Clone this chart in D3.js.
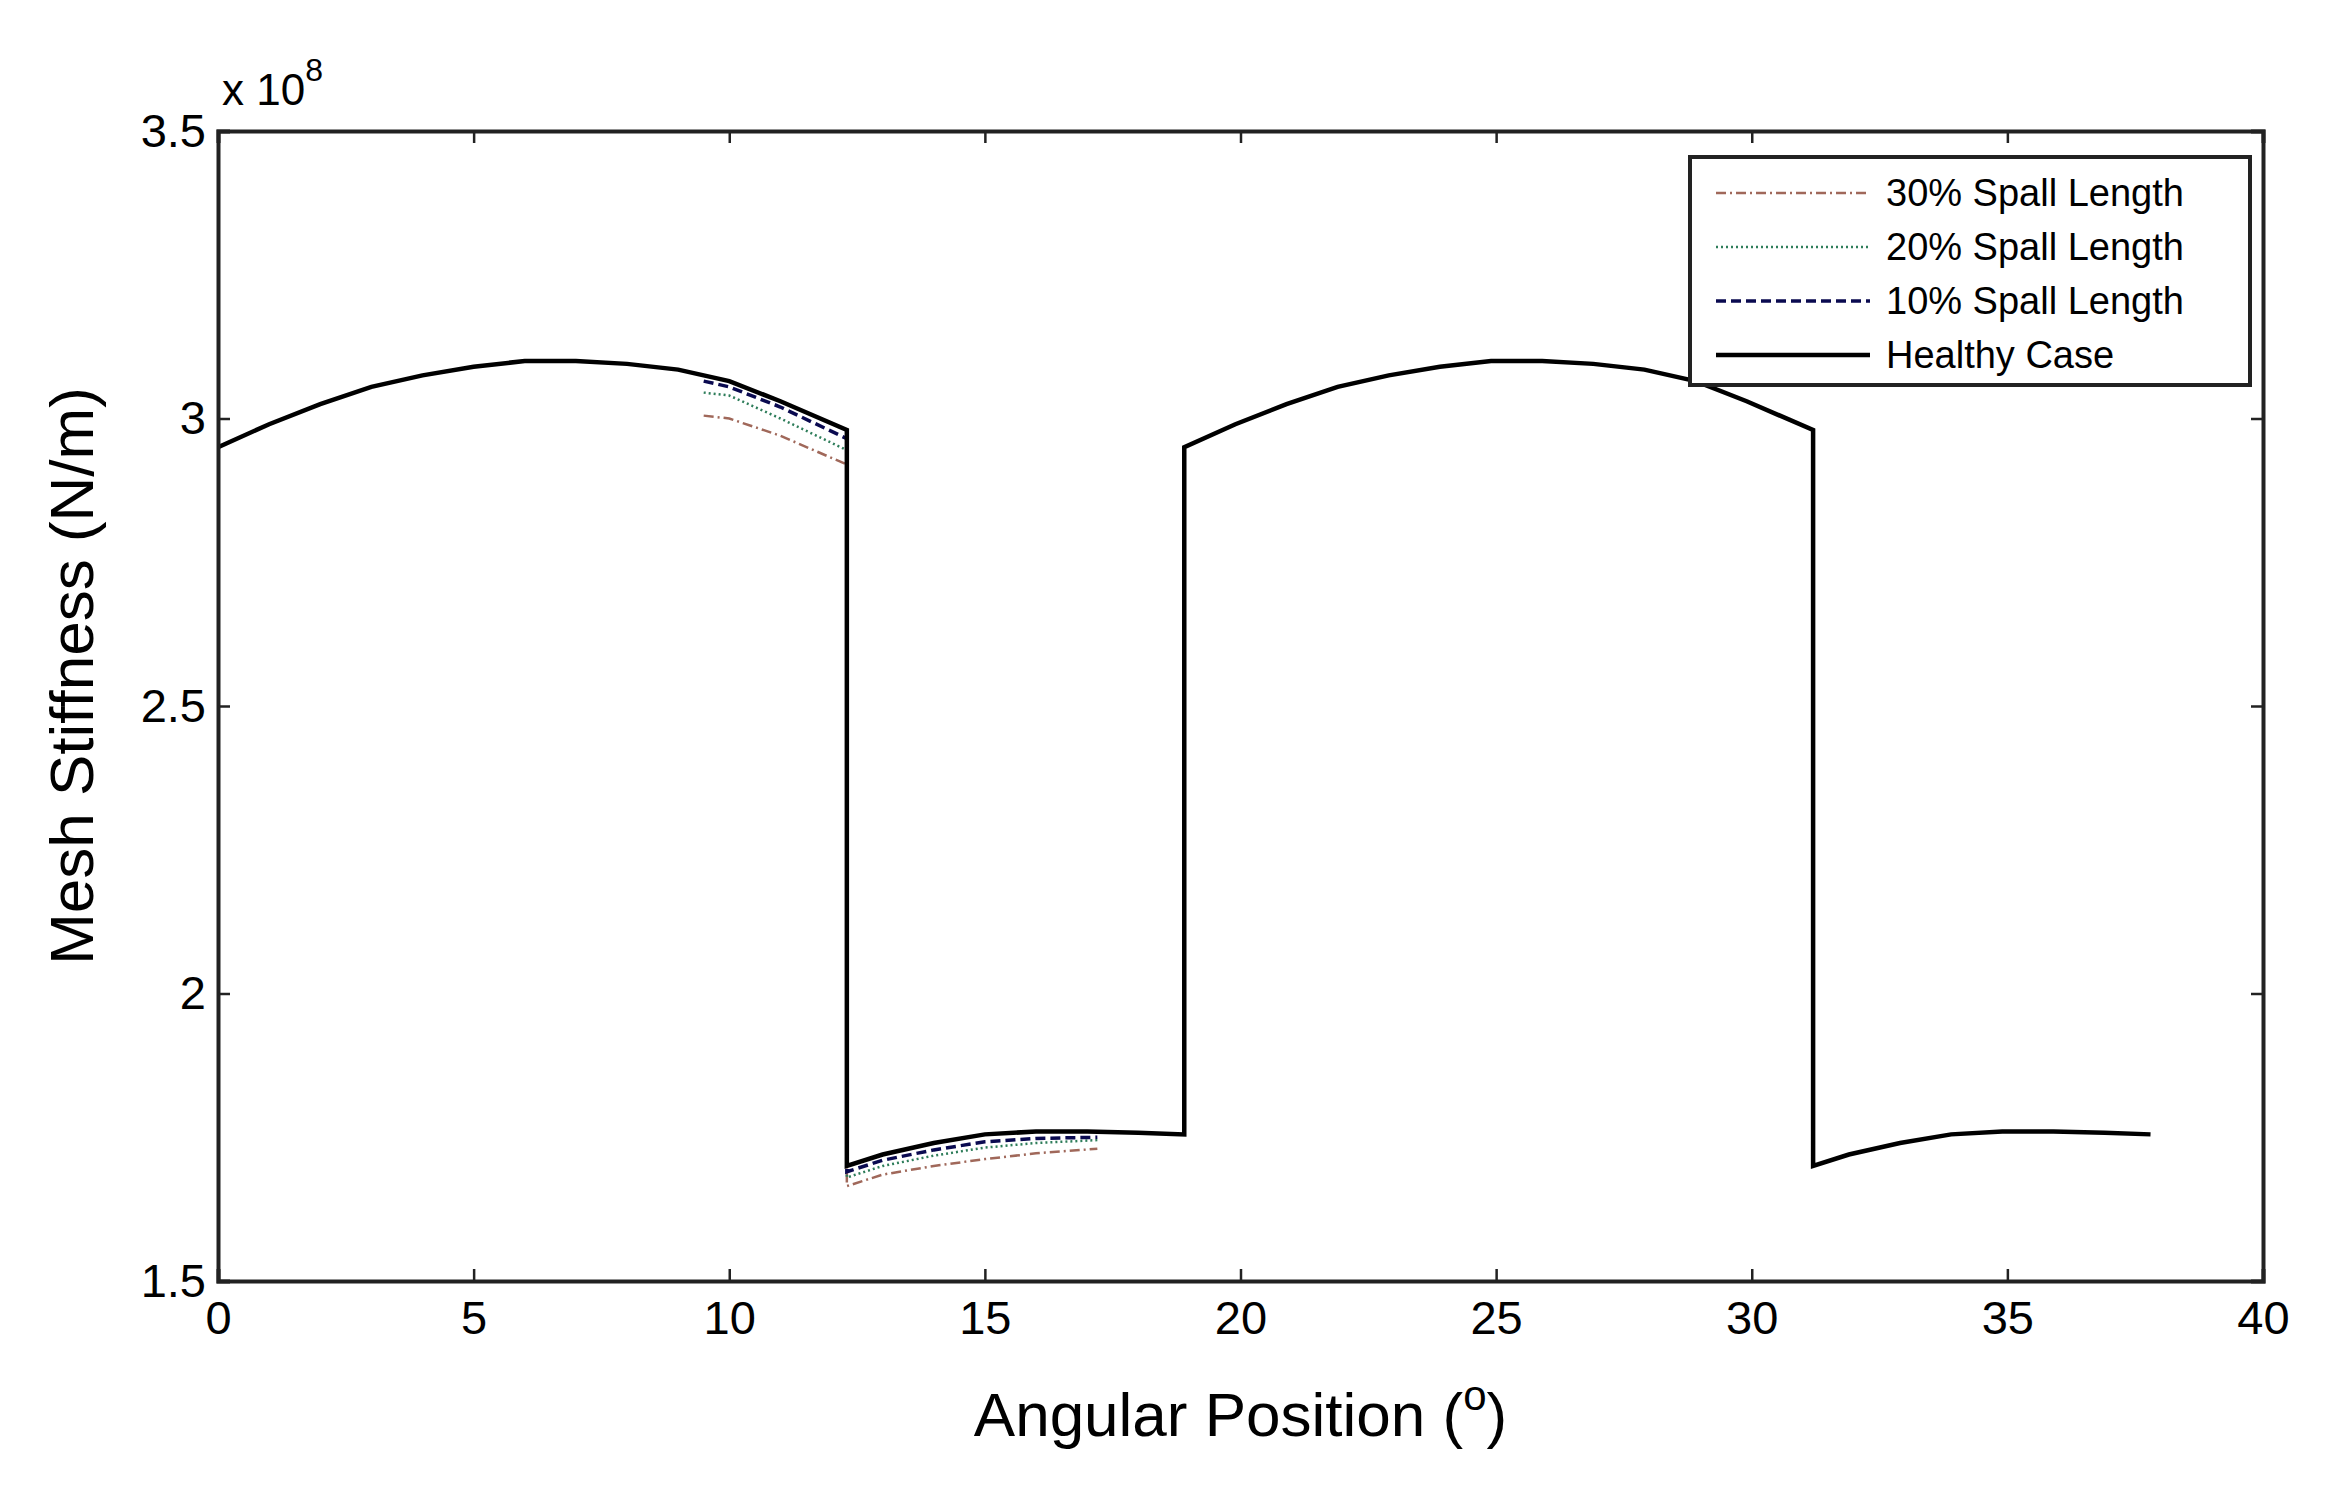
<!DOCTYPE html>
<html>
<head>
<meta charset="utf-8">
<script src="https://cdn.jsdelivr.net/npm/d3@7"></script>
<style>
  body { margin: 0; background: #fff; }
  text { font-family: "Liberation Sans", Arial, sans-serif; }
</style>
</head>
<body>
<div id="chart-area"></div>
<script>
// healthy mesh stiffness (x 1e8 N/m) vs angular position (deg)
var healthyX = [0, 1, 2, 3, 4, 5, 6, 7, 8, 9, 10, 11, 12.3,
                12.3, 13, 14, 15, 16, 17, 18, 18.9,
                18.9, 19.9, 20.9, 21.9, 22.9, 23.9, 24.9, 25.9, 26.9, 27.9, 28.9, 29.9, 31.2,
                31.2, 31.9, 32.9, 33.9, 34.9, 35.9, 36.9, 37.8];
var healthyY = [2.95, 2.99, 3.025, 3.055, 3.075, 3.09, 3.10, 3.10, 3.095, 3.085, 3.065, 3.03, 2.98,
                1.70, 1.72, 1.74, 1.755, 1.76, 1.76, 1.758, 1.755,
                2.95, 2.99, 3.025, 3.055, 3.075, 3.09, 3.10, 3.10, 3.095, 3.085, 3.065, 3.03, 2.98,
                1.70, 1.72, 1.74, 1.755, 1.76, 1.76, 1.758, 1.755];
var faultX = [9.5, 10, 11, 12.3, 12.3, 13, 14, 15, 16, 17.2];
var fault10Y = [3.065, 3.055, 3.02, 2.965, 1.69, 1.71, 1.728, 1.742, 1.748, 1.75];
var fault20Y = [3.045, 3.04, 3.0, 2.945, 1.68, 1.70, 1.718, 1.732, 1.740, 1.745];
var fault30Y = [3.005, 3.0, 2.97, 2.92, 1.665, 1.685, 1.70, 1.712, 1.722, 1.73];
var xTicks = [0, 5, 10, 15, 20, 25, 30, 35, 40];
var yTicks = [1.5, 2, 2.5, 3, 3.5];

var W = 2326, H = 1494;
var margin = {left: 218, right: 63, top: 131, bottom: 213};
var width = W - margin.left - margin.right;
var height = H - margin.top - margin.bottom;

var svg = d3.select("#chart-area").append("svg")
    .attr("width", W).attr("height", H);
var g = svg.append("g")
    .attr("transform", "translate(" + margin.left + "," + margin.top + ")");

var x = d3.scaleLinear().domain([0, 40]).range([0, width]);
var y = d3.scaleLinear().domain([1.5, 3.5]).range([height, 0]);

function pts(xs, ys) { return xs.map((d, i) => [d, ys[i]]); }
var line = d3.line().x(d => x(d[0])).y(d => y(d[1]));

var series = [
    {name: "30% Spall Length", ys: fault30Y, color: "#a0685a", dash: "10,4,2,4", w: 2.5},
    {name: "20% Spall Length", ys: fault20Y, color: "#2e7d5a", dash: "2,3", w: 2.5},
    {name: "10% Spall Length", ys: fault10Y, color: "#0a0a50", dash: "10,5", w: 3.5}
];
series.forEach(s => {
    g.append("path").datum(pts(faultX, s.ys))
        .attr("d", line).attr("fill", "none")
        .attr("stroke", s.color).attr("stroke-width", s.w)
        .attr("stroke-dasharray", s.dash);
});
g.append("path").datum(pts(healthyX, healthyY))
    .attr("d", line).attr("fill", "none")
    .attr("stroke", "#000").attr("stroke-width", 4.5);

// axes
var xAxis = g.append("g").attr("transform", "translate(0," + height + ")")
    .call(d3.axisBottom(x).tickValues(xTicks).tickSize(-12).tickPadding(20).tickFormat(d3.format("d")));
var yAxis = g.append("g")
    .call(d3.axisLeft(y).tickValues(yTicks).tickSize(-12).tickPadding(12).tickFormat(d => d === 2 || d === 3 ? d : d3.format(".1f")(d)));
var xTop = g.append("g")
    .call(d3.axisTop(x).tickValues(xTicks).tickSize(-12).tickFormat(""));
var yRight = g.append("g").attr("transform", "translate(" + width + ",0)")
    .call(d3.axisRight(y).tickValues(yTicks).tickSize(-12).tickFormat(""));
[xAxis, yAxis, xTop, yRight].forEach(a => {
    a.selectAll("path.domain").attr("stroke", "#222").attr("stroke-width", 4);
    a.selectAll(".tick line").attr("stroke", "#222").attr("stroke-width", 2.5);
    a.selectAll("text").attr("font-size", 47).attr("fill", "#000")
        .style("font-family", "'Liberation Sans', Arial, sans-serif");
});

// exponent label
var ex = g.append("text").attr("x", 4).attr("y", -26).attr("font-size", 44);
ex.append("tspan").text("x 10");
ex.append("tspan").attr("dy", -24).attr("font-size", 32).text("8");

// axis labels
g.append("text")
    .attr("x", width / 2).attr("y", height + 155)
    .attr("text-anchor", "middle").attr("font-size", 62)
    .call(t => {
        t.append("tspan").text("Angular Position (");
        t.append("tspan").attr("dy", -26).attr("font-size", 42).text("o");
        t.append("tspan").attr("dy", 26).text(")");
    });
g.append("text")
    .attr("transform", "rotate(-90)")
    .attr("x", -height / 2 + 30).attr("y", -125)
    .attr("text-anchor", "middle").attr("font-size", 62)
    .text("Mesh Stiffness (N/m)");

// legend
var lg = svg.append("g").attr("transform", "translate(1690,157)");
lg.append("rect").attr("width", 560).attr("height", 228)
    .attr("fill", "#fff").attr("stroke", "#222").attr("stroke-width", 4);
var legendItems = series.concat([{name: "Healthy Case", color: "#000", dash: null, w: 4.5}]);
legendItems.forEach((s, i) => {
    var yy = 36 + i * 54;
    lg.append("line").attr("x1", 26).attr("x2", 180).attr("y1", yy).attr("y2", yy)
        .attr("stroke", s.color).attr("stroke-width", s.w)
        .attr("stroke-dasharray", s.dash);
    lg.append("text").attr("x", 196).attr("y", yy + 13)
        .attr("font-size", 38).text(s.name);
});
</script>
</body>
</html>
